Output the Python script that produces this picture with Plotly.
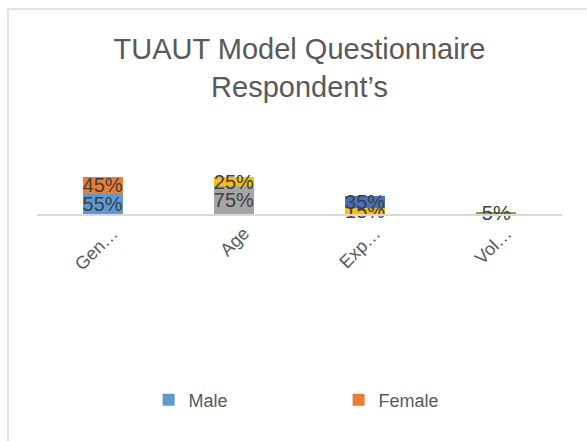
import plotly.graph_objects as go

categories = ["Gen…", "Age", "Exp…", "Vol…"]
male = [0.55, None, None, None]
female = [0.45, None, None, None]
series3 = [None, 0.75, None, None]
series4 = [None, 0.25, 0.15, None]
series5 = [None, None, 0.35, None]
series6 = [None, None, None, 0.05]

series = [
    ("Male", male, "#5B9BD5", True),
    ("Female", female, "#ED7D31", True),
    ("Series3", series3, "#A5A5A5", False),
    ("Series4", series4, "#FFC000", False),
    ("Series5", series5, "#4472C4", False),
    ("Series6", series6, "#70AD47", False),
]

FONT = "Liberation Sans, Arial, sans-serif"

fig = go.Figure()
for name, vals, color, show in series:
    fig.add_trace(go.Bar(
        x=categories, y=vals, name=name, marker=dict(color=color, line=dict(width=0)),
        showlegend=show, texttemplate="%{y:.0%}", textposition="inside",
        insidetextanchor="middle", textangle=0, constraintext="none",
        insidetextfont=dict(family=FONT, size=20, color="#404040"),
        cliponaxis=False,
    ))

fig.update_layout(
    width=587, height=441,
    barmode="stack", bargap=0.695,
    paper_bgcolor="white", plot_bgcolor="white",
    margin=dict(l=37, r=25, t=140, b=227, autoexpand=False),
    title=dict(text="TUAUT Model Questionnaire<br>Respondent’s", x=0.5, xref="paper",
               y=0.866, yref="container", xanchor="center", yanchor="middle",
               font=dict(family=FONT, size=29, color="#595959")),
    xaxis=dict(showline=True, linecolor="#D9D9D9", linewidth=1.5, tickangle=-45,
               ticks="", showgrid=False, ticklabelshift=10,
               tickfont=dict(family=FONT, size=18, color="#595959")),
    yaxis=dict(range=[0, 2], showticklabels=False, tickvals=[2], showgrid=True,
               gridcolor="#D9D9D9", gridwidth=1, zeroline=False, showline=False),
    legend=dict(orientation="h", x=0.5745, xanchor="center", xref="paper",
                y=1 - 400 / 441, yanchor="middle", yref="container",
                traceorder="normal",
                font=dict(family=FONT, size=18, color="#595959"),
                entrywidth=145, entrywidthmode="pixels"),
    shapes=[dict(type="rect", xref="paper", yref="paper",
                 x0=(8 - 37) / 525, x1=(620 - 37) / 525,
                 y0=(214 - 480) / 74, y1=(214 - 9) / 74,
                 line=dict(color="#D9D9D9", width=1.5), fillcolor="rgba(0,0,0,0)",
                 layer="below")],
)

fig.write_html("out.html", config={"displayModeBar": False},
               post_script="document.body.style.margin='0';")
